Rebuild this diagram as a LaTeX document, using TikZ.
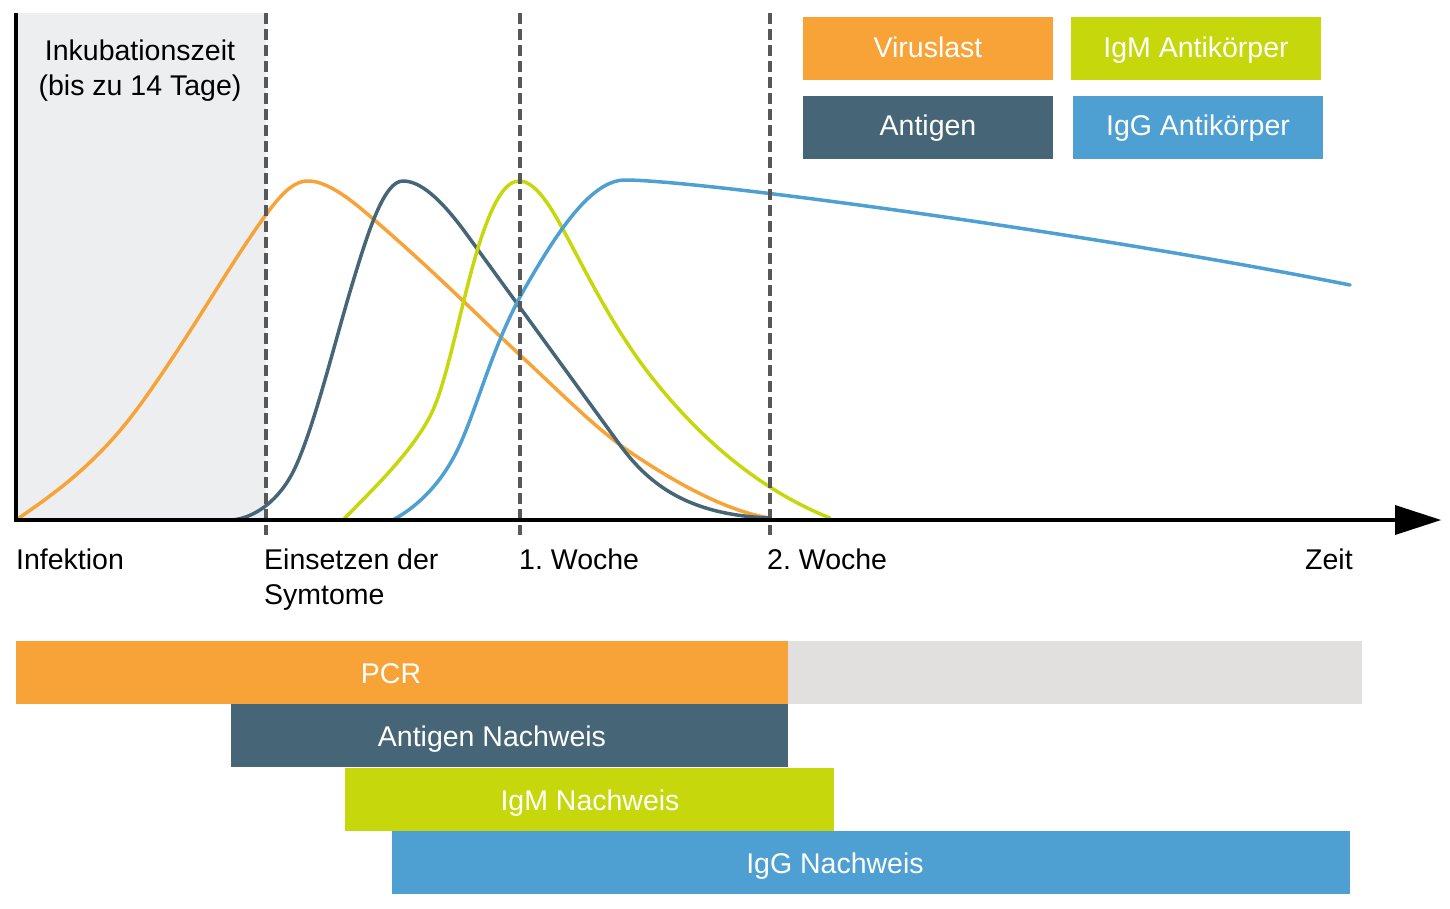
\documentclass[tikz,border=0pt]{standalone}
\usepackage{fontspec}
\setmainfont{Liberation Sans}
\definecolor{cOr}{HTML}{F7A337}
\definecolor{cGr}{HTML}{C6D80C}
\definecolor{cDk}{HTML}{466677}
\definecolor{cBl}{HTML}{4EA0D2}
\definecolor{cBg}{HTML}{EDEEF0}
\definecolor{cBar}{HTML}{E1E0DF}
\definecolor{cDash}{HTML}{585858}
\begin{document}
\frenchspacing
\begin{tikzpicture}[x=1pt,y=-1pt,
  txt/.style={font=\fontsize{28.5}{34}\selectfont, inner sep=0pt},
  wtxt/.style={txt, text=white},
  curve/.style={line width=3.5pt, line cap=round, line join=round},
  vline/.style={cDash, line width=3.5pt, dash pattern=on 11pt off 5pt}]
\useasboundingbox (0,0) rectangle (1450,908);
% incubation area
\fill[cBg] (16,13) rectangle (266,520);
\node[txt, anchor=base] (ink1) at (140,60) {Inkubationszeit};
\node[txt, anchor=base] (ink2) at (140,95) {(bis zu 14 Tage)};
% curves
\draw[curve, cOr] (16,520) .. controls (60,490) and (100,460) .. (140,405)
  .. controls (180,350) and (215,290) .. (245,245)
  .. controls (275,200) and (290,181) .. (308,181)
  .. controls (325,181) and (345,195) .. (365,212)
  .. controls (430,267) and (480,318) .. (520,355)
  .. controls (560,392) and (595,428) .. (630,452)
  .. controls (680,486) and (730,512) .. (770,518);
\draw[curve, cDk] (232,520) .. controls (255,518) and (280,500) .. (295,468)
  .. controls (315,425) and (335,340) .. (355,275)
  .. controls (370,226) and (385,181) .. (403,181)
  .. controls (420,181) and (440,198) .. (465,232)
  .. controls (500,280) and (580,390) .. (620,445)
  .. controls (650,486) and (690,515) .. (770,518);
\draw[curve, cGr] (343,520) .. controls (370,492) and (415,450) .. (433,410)
  .. controls (448,377) and (462,300) .. (478,248)
  .. controls (492,203) and (505,181) .. (519,181)
  .. controls (535,181) and (550,205) .. (565,233)
  .. controls (590,280) and (615,330) .. (650,375)
  .. controls (700,439) and (760,490) .. (830,518);
\draw[curve, cBl] (393,520) .. controls (420,505) and (445,480) .. (462,440)
  .. controls (480,398) and (495,340) .. (525,288)
  .. controls (555,236) and (590,180) .. (625,180)
  .. controls (700,180) and (1100,235) .. (1350,285);
% dashed lines
\draw[vline] (266,13) -- (266,535);
\draw[vline] (520,13) -- (520,535);
\draw[vline] (770,13) -- (770,535);
% axes
\draw[line width=4pt] (16,13) -- (16,522);
\draw[line width=4pt] (14,520) -- (1396,520);
\fill (1395,505) -- (1441,520) -- (1395,535) -- cycle;
% axis labels
\node[txt, anchor=base west] (inf) at (16,569) {Infektion};
\node[txt, anchor=base west] (eins) at (264,569) {Einsetzen der};
\node[txt, anchor=base west] (sym) at (264,604) {Symtome};
\node[txt, anchor=base west] (w1) at (519,569) {1. Woche};
\node[txt, anchor=base west] (w2) at (767,569) {2. Woche};
\node[txt, anchor=base west] (zeit) at (1305,569) {Zeit};
% legend
\fill[cOr] (803,17) rectangle (1053,80);
\fill[cGr] (1071,17) rectangle (1321,80);
\fill[cDk] (803,96) rectangle (1053,159);
\fill[cBl] (1073,96) rectangle (1323,159);
\node[wtxt, anchor=base] (lv) at (928,57) {Viruslast};
\node[wtxt, anchor=base] (lm) at (1196,57) {IgM Antikörper};
\node[wtxt, anchor=base] (la) at (928,135) {Antigen};
\node[wtxt, anchor=base] (lg) at (1198,135) {IgG Antikörper};
% bars
\fill[cBar] (788,641) rectangle (1362,704);
\fill[cOr] (16,641) rectangle (788,704);
\fill[cDk] (231,704) rectangle (788,767);
\fill[cGr] (345,768) rectangle (834,831);
\fill[cBl] (392,831) rectangle (1350,894);
\node[wtxt, anchor=base] (bp) at (391,683) {PCR};
\node[wtxt, anchor=base] (ba) at (492,746) {Antigen Nachweis};
\node[wtxt, anchor=base] (bm) at (590,810) {IgM Nachweis};
\node[wtxt, anchor=base] (bg) at (835,873) {IgG Nachweis};
\end{tikzpicture}
\end{document}
